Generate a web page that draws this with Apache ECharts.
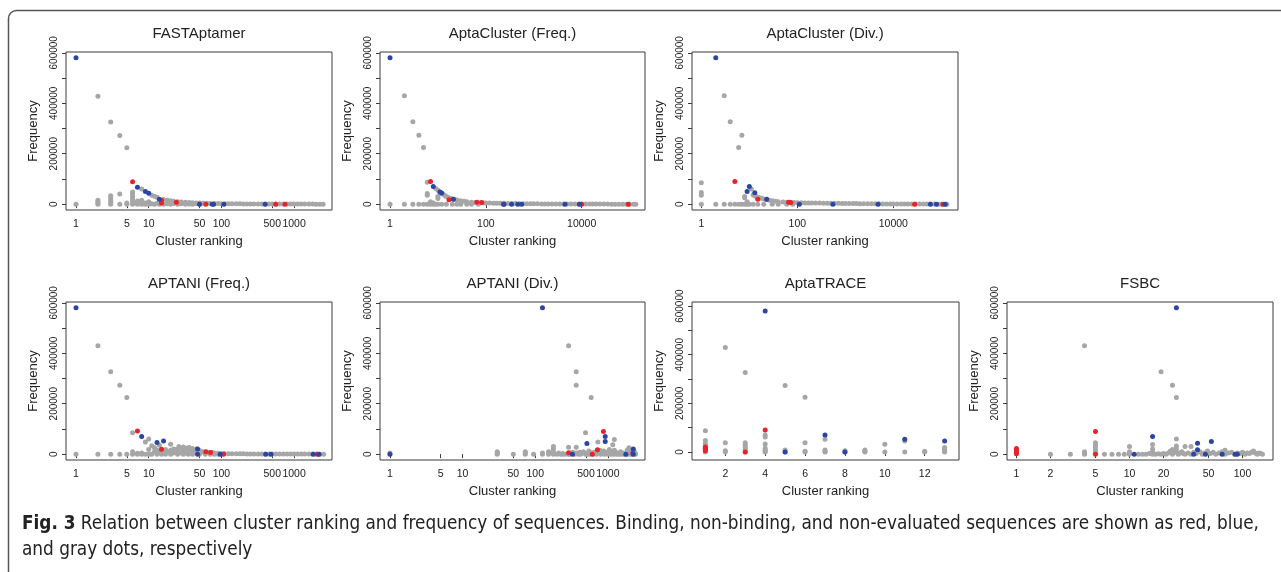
<!DOCTYPE html>
<html>
<head>
<meta charset="utf-8">
<script src="https://cdn.jsdelivr.net/npm/echarts@6/dist/echarts.min.js"></script>
<style>
html,body{margin:0;padding:0;background:#fff;}
#chart{width:1281px;height:572px;}
</style>
</head>
<body>
<div id="chart"></div>
<script>
// ---------- tick labels ----------
const yTicks = [0, 100000, 200000, 300000, 400000, 500000, 600000];
const yLabels = [0, 200000, 400000, 600000];
const logTicksA = [1, 5, 10, 50, 100, 500, 1000];
const logTicksB = [1, 100, 10000];
const traceTicks = [2, 4, 6, 8, 10, 12];
const fsbcTicks = [1, 2, 5, 10, 20, 50, 100];

// ---------- FASTAptamer ----------
const fastGray = [[1,0],[2,428000],[3,326000],[4,272000],[5,224000],
 [2,0],[2,5000],[2,10000],[2,15000],[3,0],[3,8000],[3,16000],[3,25000],[3,33000],
 [4,0],[4,40000],[5,0],[5,5000],[6,0],[6,10000],[6,20000],[6,30000],[6,40000],[6,48000],
 [7,0],[7,5000],[7,12000],[8,60000],[8,0],[8,8000],[8,15000],[9,0],[9,5000],[10,0],[10,10000],
 [11,35000],[12,31000],[13,27000],[16,18000],[18,15000],[20,13000],[22,11500],[25,10000],[28,9000],
 [32,7500],[36,6500],[40,6000],[45,5000],[50,4500],[56,4000],[63,3500],[70,3000],[80,2600],[90,2300],
 [100,2000],[112,1800],[125,1600],[140,1400],[160,1200],[180,1100],[200,1000],[225,900],[250,800],
 [280,700],[320,600],[360,550],[400,500],[450,450],[500,400],[560,350],[630,300],[710,280],[800,250],
 [900,220],[1000,200],[1120,180],[1250,160],[1400,140],[1600,120],[1800,100],[2000,80],[2250,60],[2500,50],
 [11,2000],[12,0],[13,4000],[14,0],[16,0],[18,2000],[20,0],[22,3000],[25,0],[28,2000],[32,0],[36,1000],[40,0],[45,2000],[50,0]];
const fastRed = [[6,89000],[15,15000],[15,5000],[24,7500],[61,0],[558,0],[750,0]];
const fastBlue = [[1,580000],[7,67000],[9,50000],[10,43000],[14,19000],[50,0],[75,0],[78,0],[108,0],[400,0]];

// ---------- AptaCluster (Freq.) ----------
const acfGray = [[1,0],[2,430000],[2,0],[3,327000],[3,0],[4,273000],[4,0],[5,225000],[5,0],
 [6,87000],[6,42000],[6,35000],[6,0],[7,10000],[7,0],[8,0],[8,5000],[10,30000],[10,22000],
 [9,62000],[10,55000],[12,42000],[13,38000],[14,34000],[15,30000],[17,25000],[19,22000],[22,19000],
 [25,16000],[30,13000],[35,11000],[40,10000],[50,8000],[60,7000],[75,6000],[90,5000],[100,4800],
 [120,4400],[145,4000],[170,3700],[200,3400],[240,3100],[290,2800],[350,2500],[420,2200],[500,2000],
 [600,1800],[720,1600],[860,1400],[1000,1200],[1200,1100],[1450,1000],[1700,900],[2000,800],[2400,720],
 [2900,650],[3500,580],[4200,500],[5000,450],[6000,400],[7200,350],[8600,300],[10000,260],[12000,230],
 [14500,200],[17000,180],[20000,150],[24000,130],[29000,120],[35000,100],[42000,90],[50000,80],
 [60000,70],[72000,60],[86000,50],[100000,40],[120000,30],[135000,20],
 [9,0],[10,0],[12,0],[15,0],[20,0],[25,0],[30,0],[40,0],[50,0],[70,0]];
const acfRed = [[7,90000],[17,17000],[65,8000],[82,7000],[233,0],[10000,0],[94000,0]];
const acfBlue = [[1,580000],[8,70000],[11,48000],[12,44000],[21,19000],[240,0],[345,0],[465,0],[560,0],[4500,0],[9000,0]];

// ---------- AptaCluster (Div.) ----------
const acdGray = [[1,85000],[1,46000],[1,35000],[1,0],[2,0],[3,430000],[3,0],[4,327000],[4,0],[5,0],
 [6,225000],[6,0],[7,273000],[7,0],[8,30000],[8,25000],[8,0],[9,10000],[9,0],
 [11,60000],[12,37000],[13,32000],[14,30000],[16,26000],[18,23000],[20,20000],[23,17000],[26,15000],
 [30,13000],[35,11500],[40,10000],[50,9000],[60,8000],[70,7500],[85,6500],[100,6000],[120,5500],
 [145,5000],[170,4800],[200,4500],[240,4300],[290,4100],[350,3900],[420,3700],[500,3500],[600,3300],
 [720,3100],[860,2900],[1000,2800],[1200,2600],[1450,2400],[1700,2300],[2000,2000],[2400,1900],
 [2900,1700],[3500,1500],[4200,1300],[5000,1100],[6000,950],[7200,850],[8600,750],[10000,700],
 [12000,620],[14500,550],[17000,480],[20000,400],[24000,330],[29000,280],[35000,240],[42000,200],
 [50000,150],[60000,120],[72000,100],[86000,80],[100000,50],[120000,40],[130000,30],
 [10,0],[12,0],[15,0],[20,0],[30,0],[40,0],[60,0],[80,0]];
const acdRed = [[5,90000],[15,19000],[66,8000],[73,7000],[27700,0],[108000,0]];
const acdBlue = [[2,580000],[9,50000],[10,70000],[13,45000],[23,19000],[110,0],[550,0],[4800,0],[59000,0],[79000,0],[120000,0]];

// ---------- APTANI (Freq.) ----------
const anfGray = [[1,0],[2,430000],[2,0],[3,327000],[3,0],[4,273000],[4,0],[5,225000],[5,0],
 [6,85000],[6,10000],[6,0],[7,0],[7,4000],[8,0],[8,5000],[9,48000],[9,0],[10,60000],[10,18000],[10,0],
 [11,33000],[11,0],[12,25000],[12,10000],[13,15000],[14,35000],[14,8000],[15,12000],[16,5000],
 [17,18000],[18,10000],[20,39000],[20,15000],[22,20000],[24,18000],[26,30000],[27,25000],[28,22000],
 [30,28000],[32,20000],[34,24000],[36,26000],[38,18000],[40,22000],[42,15000],[45,20000],[48,12000],
 [50,14000],[55,10000],[60,9000],[65,8000],[70,6000],[75,7000],[80,5000],[90,4000],[100,3000],
 [110,2500],[125,2000],[140,1800],[160,1500],[180,1300],[200,1100],[225,1000],[250,900],[280,800],
 [320,700],[360,600],[400,550],[450,500],[500,450],[560,400],[630,350],[710,300],[800,280],[900,250],
 [1000,220],[1120,200],[1250,180],[1400,160],[1600,140],[1800,120],[2000,100],[2250,80],[2550,50],
 [13,0],[15,0],[17,0],[20,0],[22,5000],[25,10000],[28,5000],[30,12000],[33,6000],[36,10000],[40,5000],
 [45,8000],[50,3000],[25,0],[30,0],[35,0],[40,0],[50,0],[60,0],[70,0],[80,0],[90,0]];
const anfRed = [[7,92000],[15,19000],[61,10000],[71,7000],[107,0],[2090,0]];
const anfBlue = [[1,580000],[8,70000],[13,46000],[16,52000],[47,20000],[47,0],[96,0],[407,0],[480,0],[1830,0],[2200,0]];

// ---------- APTANI (Div.) ----------
const andGray = [[1,5000],[30,0],[30,5000],[30,10000],[50,0],[73,0],[73,5000],[73,10000],[95,0],
 [126,0],[126,5000],[153,0],[153,5000],[153,10000],[178,0],[178,10000],[178,20000],[178,30000],
 [200,0],[210,5000],[225,0],[240,3000],[260,0],[288,430000],[288,27000],[288,0],[310,5000],[330,8000],
 [345,0],[367,327000],[367,273000],[367,27000],[367,5000],[390,0],[410,8000],[430,3000],[460,10000],
 [493,85000],[493,0],[520,5000],[550,12000],[590,225000],[590,5000],[620,0],[650,8000],[680,3000],
 [730,48000],[730,10000],[780,15000],[830,5000],[880,12000],[930,3000],[980,8000],[1050,18000],
 [1100,10000],[1170,37000],[1170,5000],[1230,58000],[1230,15000],[1300,8000],[1400,3000],[1500,10000],
 [1600,5000],[1700,2000],[1850,15000],[1950,25000],[2050,10000],[2150,5000],[2300,12000],[2400,3000],
 [240,0],[300,0],[420,0],[520,0],[700,0],[900,0],[1100,0],[1300,0],[1500,0],[1800,0],[2100,0],[2400,0],
 [560,0],[800,0],[1000,0],[1200,0],[1400,0],[1650,0],[1950,0],[2250,0]];
const andRed = [[288,6000],[612,0],[720,17000],[870,90000],[2200,5000]];
const andBlue = [[1,0],[126,580000],[326,0],[515,42000],[920,70000],[920,50000],[1770,0],[2240,0],[2240,20000]];

// ---------- AptaTRACE ----------
const traceGray = [[1,87000],[1,47000],[1,35000],[1,28000],[1,20000],[1,10000],[1,5000],[1,0],
 [2,430000],[2,38000],[2,5000],[2,0],[3,327000],[3,38000],[3,28000],[3,18000],[3,10000],[3,0],
 [4,70000],[4,62000],[4,33000],[4,15000],[4,8000],[4,3000],[4,0],[5,273000],[5,8000],[5,0],
 [6,225000],[6,38000],[6,3000],[6,0],[7,52000],[7,8000],[7,3000],[7,0],[8,5000],[8,0],
 [9,8000],[9,3000],[9,0],[10,32000],[10,0],[11,45000],[11,0],[12,3000],[12,0],
 [13,18000],[13,12000],[13,8000],[13,3000],[13,0]];
const traceRed = [[1,20000],[1,15000],[1,10000],[1,5000],[3,0],[4,90000]];
const traceBlue = [[4,580000],[5,0],[7,70000],[8,0],[11,52000],[13,45000]];

// ---------- FSBC ----------
const fsbcGray = [[2,0],[3,0],[4,430000],[4,0],[4,5000],[4,10000],[5,45000],[5,35000],[5,25000],[5,15000],
 [5,8000],[6,0],[7,0],[8,0],[9,0],[10,30000],[10,10000],[10,5000],[10,0],[12,0],[13,0],[14,0],[15,3000],
 [16,38000],[16,20000],[16,8000],[16,0],[17,0],[18,2000],[19,327000],[19,0],[20,3000],[21,0],[22,5000],
 [23,12000],[24,273000],[24,18000],[24,0],[25,8000],[26,225000],[26,60000],[26,32000],[26,20000],
 [26,8000],[27,0],[28,5000],[29,10000],[30,3000],[31,30000],[31,0],[33,5000],[35,30000],[35,0],
 [37,8000],[39,3000],[42,10000],[44,0],[46,5000],[49,12000],[52,3000],[55,8000],[58,0],[62,5000],
 [66,10000],[70,15000],[70,0],[75,5000],[80,8000],[85,0],[90,5000],[95,3000],[100,8000],[105,0],
 [110,5000],[115,3000],[120,8000],[125,12000],[130,5000],[135,0],[140,5000],[145,3000],[150,0]];
const fsbcRed = [[1,22000],[1,17000],[1,12000],[1,7000],[1,2000],[5,90000],[5,0]];
const fsbcBlue = [[11,0],[16,70000],[26,580000],[37,0],[40,43000],[40,17000],[47,0],[53,50000],[66,0],[86,0],[90,0]];

// ---------- layout ----------
const panels = [
 {title:'FASTAptamer', box:[66,52,332,210], log:true, xr:[0.728,3320], xt:logTicksA, yr:[-23200,603200], g:fastGray, r:fastRed, b:fastBlue},
 {title:'AptaCluster (Freq.)', box:[380,52,645,210], log:true, xr:[0.618,210000], xt:logTicksB, yr:[-23200,603200], g:acfGray, r:acfRed, b:acfBlue},
 {title:'AptaCluster (Div.)', box:[692,52,958,210], log:true, xr:[0.64,222000], xt:logTicksB, yr:[-23200,603200], g:acdGray, r:acdRed, b:acdBlue},
 {title:'APTANI (Freq.)', box:[66,302,332,460], log:true, xr:[0.728,3320], xt:logTicksA, yr:[-23200,603200], g:anfGray, r:anfRed, b:anfBlue},
 {title:'APTANI (Div.)', box:[380,302,645,460], log:true, xr:[0.729,3250], xt:logTicksA, yr:[-23200,603200], g:andGray, r:andRed, b:andBlue},
 {title:'AptaTRACE', box:[692,302,959,460], log:false, xr:[0.33,13.72], xt:traceTicks, yr:[-33000,617000], g:traceGray, r:traceRed, b:traceBlue},
 {title:'FSBC', box:[1007,302,1273,460], log:true, xr:[0.825,186], xt:fsbcTicks, yr:[-23200,603200], g:fsbcGray, r:fsbcRed, b:fsbcBlue}
];

const FONT = "'Liberation Sans', Arial, sans-serif";
const GRAY = '#a6a6a6', RED = '#e8222b', BLUE = '#2a45a5';
const grids = [], xAxes = [], yAxes = [], series = [], graphics = [];

panels.forEach((p, i) => {
  const [x0, y0, x1, y1] = p.box;
  grids.push({left:x0, top:y0, width:x1-x0, height:y1-y0, show:true, borderColor:'#3a3a3a', borderWidth:1, backgroundColor:'rgba(0,0,0,0)'});
  xAxes.push({
    gridIndex:i, type:p.log?'log':'value', logBase:10, min:p.xr[0], max:p.xr[1],
    axisLine:{show:false}, splitLine:{show:false}, minorTick:{show:false},
    axisTick:{show:true, length:4, customValues:p.xt, lineStyle:{color:'#3a3a3a', width:1}},
    axisLabel:{customValues:p.xt, fontSize:10.5, margin:9, color:'#222', fontFamily:FONT, formatter:v=>String(Math.round(v))},
    name:'Cluster ranking', nameLocation:'middle', nameGap:25,
    nameTextStyle:{fontSize:13, color:'#222', fontFamily:FONT}
  });
  yAxes.push({
    gridIndex:i, type:'value', min:p.yr[0], max:p.yr[1],
    axisLine:{show:false}, splitLine:{show:false},
    axisTick:{show:true, length:4, customValues:yTicks, lineStyle:{color:'#3a3a3a', width:1}},
    axisLabel:{customValues:yLabels, rotate:90, fontSize:10, margin:7, color:'#222', fontFamily:FONT, formatter:v=>String(Math.round(v))},
    name:'Frequency', nameLocation:'middle', nameGap:26,
    nameTextStyle:{fontSize:13, color:'#222', fontFamily:FONT}
  });
  const mk = (data, color, z) => ({type:'scatter', xAxisIndex:i, yAxisIndex:i, data:data, symbol:'circle', symbolSize:5, itemStyle:{color:color, opacity:1}, z:z, silent:true, animation:false});
  series.push(mk(p.g, GRAY, 2), mk(p.r, RED, 3), mk(p.b, BLUE, 4));
  graphics.push({type:'text', x:(x0+x1)/2, y:y0-18, style:{text:p.title, fontSize:15, fill:'#222', fontFamily:FONT, align:'center', verticalAlign:'middle'}});
});

// outer frame
graphics.push({type:'rect', shape:{x:8.5, y:10.5, width:1400, height:700, r:8}, style:{fill:'none', stroke:'#555', lineWidth:1.5}, z:-1});
// caption
const CAP = "'Liberation Sans Narrow','DejaVu Sans Condensed', 'Liberation Sans', sans-serif";
graphics.push({type:'text', x:22, y:524, style:{
  rich:{b:{fontWeight:'bold', fontSize:18.8, fill:'#222', fontFamily:CAP}, n:{fontSize:18.8, fill:'#222', fontFamily:CAP}},
  text:'{b|Fig. 3}{n| Relation between cluster ranking and frequency of sequences. Binding, non-binding, and non-evaluated sequences are shown as red, blue,}',
  verticalAlign:'middle'}});
graphics.push({type:'text', x:22, y:550, style:{text:'and gray dots, respectively', fontSize:18.8, fill:'#222', fontFamily:CAP, verticalAlign:'middle'}});

const chart = echarts.init(document.getElementById('chart'), null, {renderer:'canvas'});
chart.setOption({animation:false, backgroundColor:'#fff', grid:grids, xAxis:xAxes, yAxis:yAxes, series:series, graphic:graphics});
</script>
</body>
</html>
